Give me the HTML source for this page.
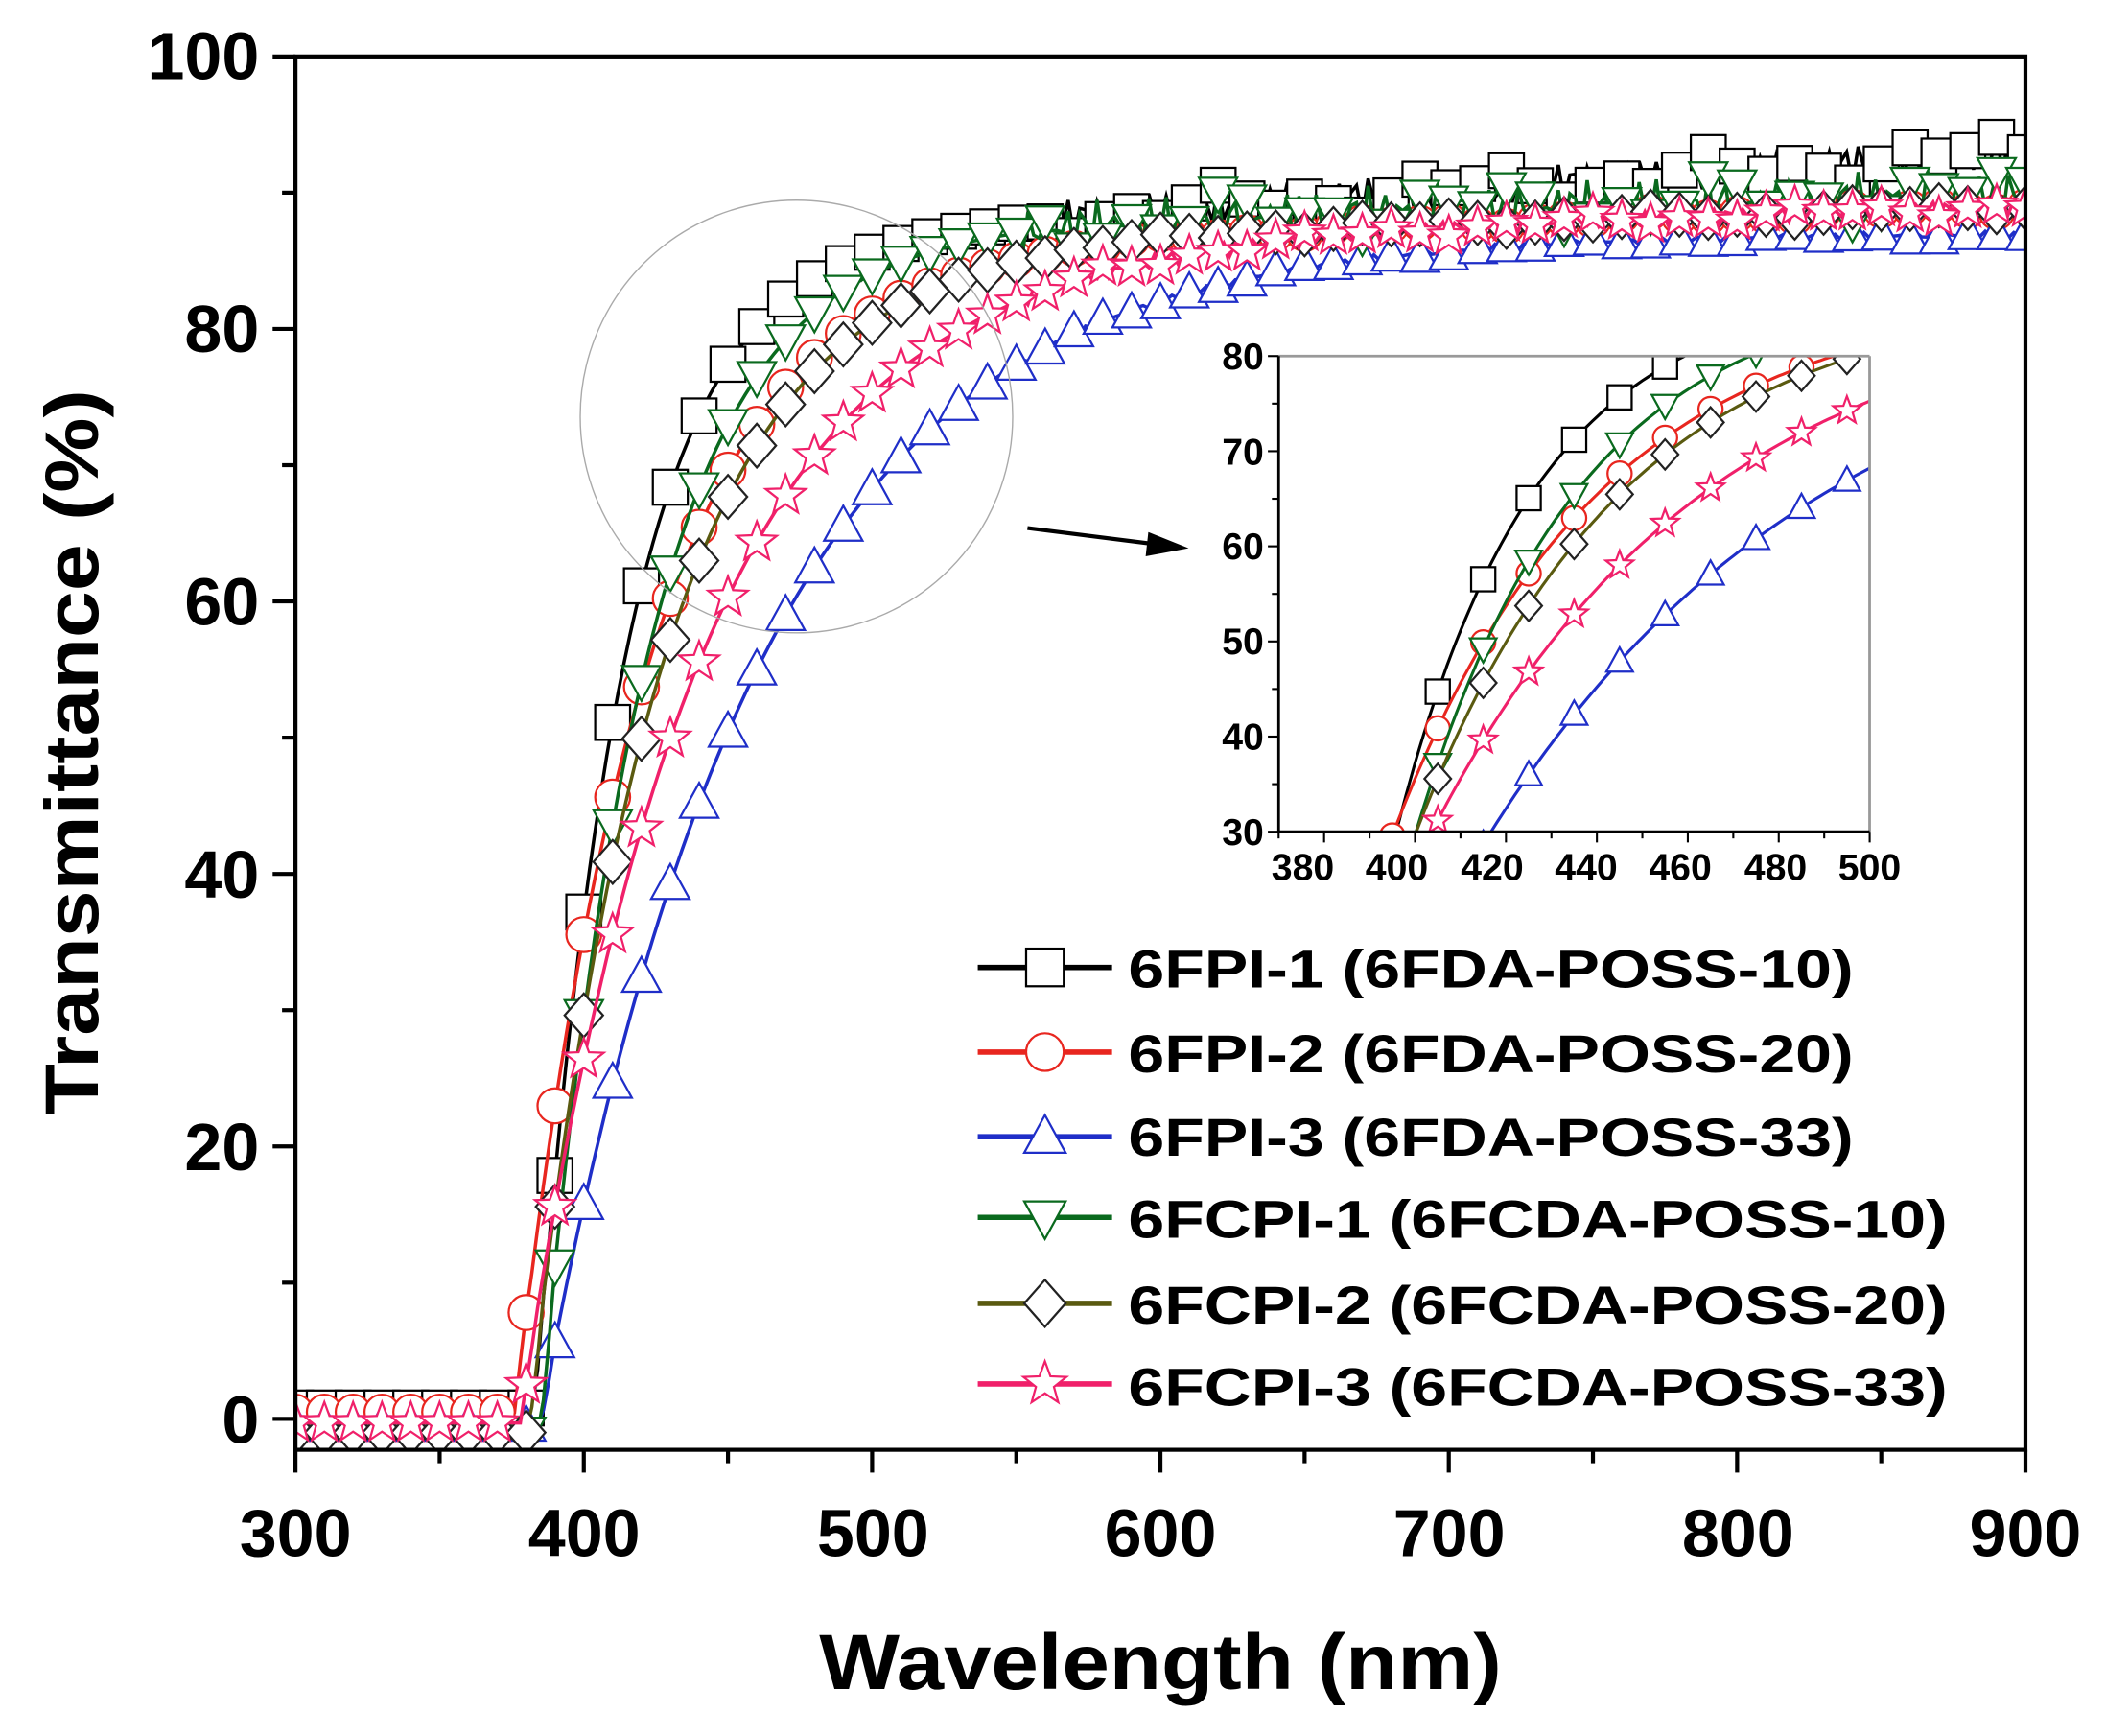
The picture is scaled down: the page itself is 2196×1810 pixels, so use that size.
<!DOCTYPE html>
<html><head><meta charset="utf-8"><style>html,body{margin:0;padding:0;background:#fff}svg{display:block}text{font-family:"Liberation Sans",Arial,sans-serif;font-weight:bold;fill:#000}</style></head>
<body>
<svg id="s" width="2196" height="1810" viewBox="0 0 1568 1292" preserveAspectRatio="none" xmlns="http://www.w3.org/2000/svg">
<defs>
<clipPath id="cm"><rect x="220" y="42" width="1288" height="1037"/></clipPath>
<clipPath id="ci"><rect x="952" y="265" width="440" height="354"/></clipPath>
</defs>
<g id="main" clip-path="url(#cm)"></g>
<circle cx="593" cy="310" r="161" fill="none" stroke="#aaa" stroke-width="1"/>
<line x1="765" y1="393" x2="860" y2="405" stroke="#000" stroke-width="3"/>
<polygon points="885,408 855,396 853,414" fill="#000"/>
<rect x="952" y="265" width="440" height="354" fill="#fff"/>
<g id="inset" clip-path="url(#ci)"></g>
<g id="axes"></g>
<g id="legend"></g>
<g font-size="50" text-anchor="end">
<text x="193" y="1074">0</text><text x="193" y="871">20</text><text x="193" y="668">40</text><text x="193" y="465">60</text><text x="193" y="262">80</text><text x="193" y="59">100</text>
</g>
<g font-size="50" text-anchor="middle">
<text x="220" y="1158">300</text><text x="435" y="1158">400</text><text x="650" y="1158">500</text><text x="864" y="1158">600</text><text x="1079" y="1158">700</text><text x="1294" y="1158">800</text><text x="1508" y="1158">900</text>
</g>
<text x="864" y="1257" font-size="58" text-anchor="middle" textLength="508" lengthAdjust="spacingAndGlyphs">Wavelength (nm)</text>
<text transform="translate(73,560) rotate(-90)" font-size="56" text-anchor="middle" textLength="540" lengthAdjust="spacingAndGlyphs">Transmittance (%)</text>
<g font-size="28" text-anchor="end">
<text x="941" y="629">30</text><text x="941" y="558">40</text><text x="941" y="487">50</text><text x="941" y="416">60</text><text x="941" y="346">70</text><text x="941" y="275">80</text>
</g>
<g font-size="28" text-anchor="middle">
<text x="970" y="655">380</text><text x="1040" y="655">400</text><text x="1111" y="655">420</text><text x="1181" y="655">440</text><text x="1251" y="655">460</text><text x="1322" y="655">480</text><text x="1392" y="655">500</text>
</g>
<g font-size="40">
<text x="840" y="735" textLength="540" lengthAdjust="spacingAndGlyphs">6FPI-1 (6FDA-POSS-10)</text>
<text x="840" y="798" textLength="540" lengthAdjust="spacingAndGlyphs">6FPI-2 (6FDA-POSS-20)</text>
<text x="840" y="860" textLength="540" lengthAdjust="spacingAndGlyphs">6FPI-3 (6FDA-POSS-33)</text>
<text x="840" y="921" textLength="610" lengthAdjust="spacingAndGlyphs">6FCPI-1 (6FCDA-POSS-10)</text>
<text x="840" y="985" textLength="610" lengthAdjust="spacingAndGlyphs">6FCPI-2 (6FCDA-POSS-20)</text>
<text x="840" y="1046" textLength="610" lengthAdjust="spacingAndGlyphs">6FCPI-3 (6FCDA-POSS-33)</text>
</g>
</svg>
<script>
(function(){
var NS="http://www.w3.org/2000/svg";
function el(p,t,a){var e=document.createElementNS(NS,t);for(var k in a)e.setAttribute(k,a[k]);p.appendChild(e);return e;}
var S=[
 {c:"#000",m:"sq",l0:383,w:30,a0:86,a1:7,n:1.5,base:0.8},
 {c:"#e8261f",m:"ci",l0:376,w:45,a0:86,a1:3,n:0.4,base:0.5},
 {c:"#1f2ec8",m:"tu",l0:385,w:75,a0:87,a1:0,n:0.3,base:-0.5},
 {c:"#0a6a1e",m:"td",l0:385,w:36,a0:87,a1:3,n:2.0,base:-1},
 {c:"#5a5a10",m:"di",l0:381,w:45,a0:86,a1:3,n:0.4,base:-1},
 {c:"#f0206a",m:"st",l0:378,w:60,a0:86,a1:3,n:0.6,base:-0.3}
];
function T(s,l,i){var A=s.a0+s.a1*(l-400)/500;var v=l<=s.l0?0:A*(1-Math.exp(-(l-s.l0)/s.w));
 var nz=l>550?s.n*Math.sin(l*1.7+i*3)*Math.cos(l*0.37+i):0;return Math.max(v,0)+s.base*(l<s.l0+5?1:0)+nz;}
function shape(g,s,x,y,r){var sw=1.6,st={fill:"#fff",stroke:s.m=="di"?"#222":s.c,"stroke-width":sw};
 if(s.m=="sq")el(g,"rect",Object.assign({x:x-r,y:y-r,width:2*r,height:2*r},st));
 else if(s.m=="ci")el(g,"circle",Object.assign({cx:x,cy:y,r:r},st));
 else if(s.m=="tu")el(g,"polygon",Object.assign({points:(x)+","+(y-r*1.15)+" "+(x-r*1.1)+","+(y+r*0.85)+" "+(x+r*1.1)+","+(y+r*0.85)},st));
 else if(s.m=="td")el(g,"polygon",Object.assign({points:(x)+","+(y+r*1.15)+" "+(x-r*1.1)+","+(y-r*0.85)+" "+(x+r*1.1)+","+(y-r*0.85)},st));
 else if(s.m=="di")el(g,"polygon",Object.assign({points:x+","+(y-r*1.25)+" "+(x+r*1.1)+","+y+" "+x+","+(y+r*1.25)+" "+(x-r*1.1)+","+y},st));
 else {var p=[];for(var k=0;k<10;k++){var a=-Math.PI/2+k*Math.PI/5,rr=k%2?r*0.5:r*1.2;p.push((x+rr*Math.cos(a)).toFixed(1)+","+(y+rr*Math.sin(a)).toFixed(1));}el(g,"polygon",Object.assign({points:p.join(" ")},st));}
}
var gm=document.getElementById("main"),gi=document.getElementById("inset");
function mx(l){return 220+(l-300)*2.1467;} function my(v){return 1056-v*10.14;}
function ix(l){return 952+(l-370)*3.385;} function iy(v){return 619-(v-30)*7.08;}
S.forEach(function(s,i){
 var p=[],q=[];
 for(var l=300;l<=900;l+=2){var v=T(s,l,i);p.push(mx(l).toFixed(1)+","+my(v).toFixed(1));}
 el(gm,"polyline",{points:p.join(" "),fill:"none",stroke:s.c,"stroke-width":2.5});
 for(var l=300;l<=900;l+=10){shape(gm,s,mx(l),my(T(s,l,i)),13);}
 for(var l=370;l<=502;l+=1){q.push(ix(l).toFixed(1)+","+iy(T(s,l,i)).toFixed(1));}
 el(gi,"polyline",{points:q.join(" "),fill:"none",stroke:s.c,"stroke-width":2.2});
 for(var l=375;l<=505;l+=10){shape(gi,s,ix(l),iy(T(s,l,i)),9);}
 var ly=[720,783,846,906,970,1030][i],lg=document.getElementById("legend");
 el(lg,"line",{x1:728,y1:ly,x2:828,y2:ly,stroke:s.c,"stroke-width":4});
 shape(lg,s,778,ly,14);
});
var ga=document.getElementById("axes");
el(ga,"rect",{x:220,y:42,width:1288,height:1037,fill:"none",stroke:"#000","stroke-width":3});
for(var l=300;l<=900;l+=50){var M=l%100==0;el(ga,"line",{x1:mx(l),y1:1079,x2:mx(l),y2:1079+(M?17:10),stroke:"#000","stroke-width":3});}
for(var v=0;v<=100;v+=10){var M=v%20==0;el(ga,"line",{x1:220,y1:my(v),x2:220-(M?17:10),y2:my(v),stroke:"#000","stroke-width":3});}
el(ga,"line",{x1:952,y1:265,x2:1392,y2:265,stroke:"#999","stroke-width":2});
el(ga,"line",{x1:1392,y1:265,x2:1392,y2:619,stroke:"#999","stroke-width":2});
el(ga,"line",{x1:952,y1:265,x2:952,y2:619,stroke:"#000","stroke-width":2});
el(ga,"line",{x1:952,y1:619,x2:1392,y2:619,stroke:"#000","stroke-width":2});
for(var l=370;l<=500;l+=10){var M=(l%20==0);el(ga,"line",{x1:ix(l),y1:619,x2:ix(l),y2:619+(M?8:5),stroke:"#000","stroke-width":1.5});}
for(var v=30;v<=80;v+=5){var M=v%10==0;el(ga,"line",{x1:952,y1:iy(v),x2:952-(M?8:5),y2:iy(v),stroke:"#000","stroke-width":1.5});}
})();
</script>
</body></html>
